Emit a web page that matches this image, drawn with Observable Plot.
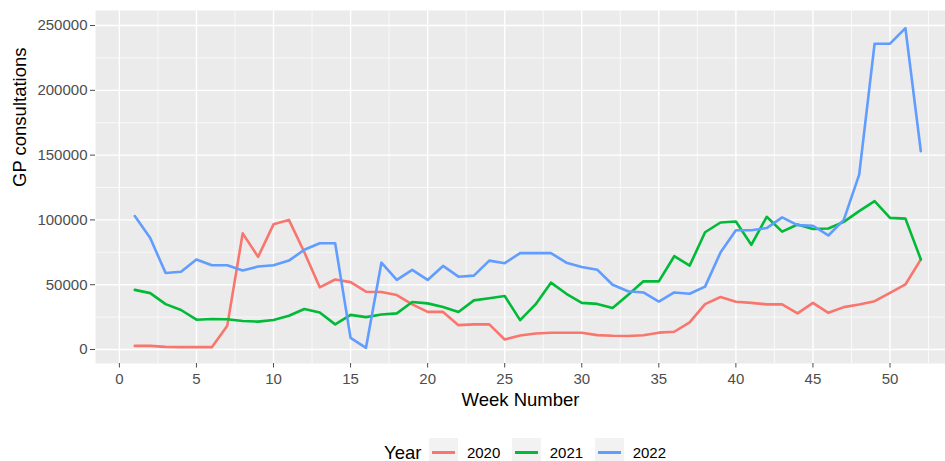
<!DOCTYPE html>
<html>
<head>
<meta charset="utf-8">
<script src="https://cdn.jsdelivr.net/npm/d3@7"></script>
<script src="https://cdn.jsdelivr.net/npm/@observablehq/plot@0.6"></script>
<style>
  body { margin: 0; background: #ffffff; font-family: "Liberation Sans", Arial, sans-serif; }
  #chart svg { display: block; }
  #legend { display: flex; align-items: center; margin-left: 384px; margin-top: 18px; height: 29px; }
  #legend .title { font-size: 18.5px; line-height: 18px; color: #000; margin-right: 8px; }
  #legend .key { width: 29px; height: 29px; background: #F2F2F2; position: relative; margin-left: 12px; }
  #legend .key.first { margin-left: 0; }
  #legend .key span { position: absolute; left: 3px; right: 3px; top: 13.2px; height: 2.6px; }
  #legend .lab { font-size: 15px; line-height: 15px; color: #000; margin-left: 8.5px; }
</style>
</head>
<body>
<div id="chart"></div>
<div id="legend"></div>
<script>
const weeks = [1,2,3,4,5,6,7,8,9,10,11,12,13,14,15,16,17,18,19,20,21,22,23,24,25,26,
               27,28,29,30,31,32,33,34,35,36,37,38,39,40,41,42,43,44,45,46,47,48,49,50,51,52];

const years = ["2020", "2021", "2022"];
const colors = ["#F8766D", "#00BA38", "#619CFF"];

const y2020 = [2800, 2800, 2000, 1800, 1800, 1800, 18400, 89600, 71500, 96600, 100000, 75000, 48000,
  54000, 52000, 44600, 44400, 42000, 34800, 29000, 29000, 18800, 19400, 19400, 7700, 10800,
  12400, 12900, 12900, 12900, 11100, 10600, 10400, 11000, 13000, 13700, 21000, 35000, 40500,
  36900, 36000, 34800, 34800, 27900, 36000, 28300, 32700, 34700, 37300, 43700, 50200, 69500];

const y2021 = [46000, 43500, 35000, 30500, 23000, 23500, 23300, 22000, 21500, 22800, 26000, 31300, 28500,
  19400, 26700, 25000, 27000, 27900, 36600, 35600, 32800, 29000, 37900, 39500, 41300, 22700,
  34800, 51600, 43000, 36000, 35200, 32000, 42000, 52600, 52600, 72000, 64700, 90500, 98000,
  98800, 80800, 102400, 91000, 96500, 93000, 93400, 98500, 106800, 114500, 101600, 101000, 69500];

const y2022 = [103000, 86000, 59000, 60000, 69500, 65000, 65000, 61000, 64000, 65000, 68600, 77000, 82000,
  82000, 9000, 1300, 67000, 53700, 61400, 53700, 64500, 56200, 57000, 68600, 66600, 74400,
  74400, 74400, 67000, 63700, 61600, 50000, 45000, 44000, 37000, 44000, 43000, 48500, 74800,
  92000, 92000, 93700, 102000, 96000, 95500, 88000, 100000, 135000, 236000, 236000, 248000, 153000];

const xTicks = [0, 5, 10, 15, 20, 25, 30, 35, 40, 45, 50];
const xMinor = [2.5, 7.5, 12.5, 17.5, 22.5, 27.5, 32.5, 37.5, 42.5, 47.5, 52.5];
const yTicks = [0, 50000, 100000, 150000, 200000, 250000];
const yMinor = [25000, 75000, 125000, 175000, 225000];

const series = [y2020, y2021, y2022];
const rows = [];
years.forEach((yr, i) => {
  weeks.forEach((w, j) => rows.push({ year: yr, week: w, value: series[i][j] }));
});

const plot = Plot.plot({
  width: 945,
  height: 420,
  marginTop: 10,
  marginBottom: 57,
  marginLeft: 95,
  marginRight: 0,
  style: { fontFamily: "'Liberation Sans', Arial, sans-serif", fontSize: "15px", background: "white", overflow: "visible" },
  x: { domain: [-1.55, 53.6], label: null },
  y: { domain: [-10800, 261600], label: null },
  color: { domain: years, range: colors },
  marks: [
    Plot.frame({ fill: "#EBEBEB", stroke: "none" }),
    Plot.ruleY(yMinor, { stroke: "white", strokeWidth: 0.7 }),
    Plot.ruleX(xMinor, { stroke: "white", strokeWidth: 0.7 }),
    Plot.ruleY(yTicks, { stroke: "white", strokeWidth: 1.4 }),
    Plot.ruleX(xTicks, { stroke: "white", strokeWidth: 1.4 }),
    Plot.lineY(rows, { x: "week", y: "value", stroke: "year", strokeWidth: 2.6 }),
    Plot.axisX({ ticks: xTicks, tickSize: 4.5, tickPadding: 5, color: "#4D4D4D", tickFormat: d => String(d), label: null }),
    Plot.axisY({ ticks: yTicks, tickSize: 5, tickPadding: 3, color: "#4D4D4D", tickFormat: d => String(d), label: null }),
    Plot.text(["Week Number"], { frameAnchor: "bottom", dy: 42, fontSize: 18.5, fill: "black" }),
    Plot.text(["GP consultations"], { frameAnchor: "left", dx: -75, rotate: -90, fontSize: 18.5, fill: "black" })
  ]
});
document.getElementById("chart").appendChild(plot);

const legend = document.getElementById("legend");
const t = document.createElement("span");
t.className = "title";
t.textContent = "Year";
legend.appendChild(t);
years.forEach((yr, i) => {
  const k = document.createElement("div");
  k.className = "key" + (i === 0 ? " first" : "");
  const l = document.createElement("span");
  l.style.background = colors[i];
  k.appendChild(l);
  legend.appendChild(k);
  const lab = document.createElement("span");
  lab.className = "lab";
  lab.textContent = yr;
  legend.appendChild(lab);
});
</script>
</body>
</html>
